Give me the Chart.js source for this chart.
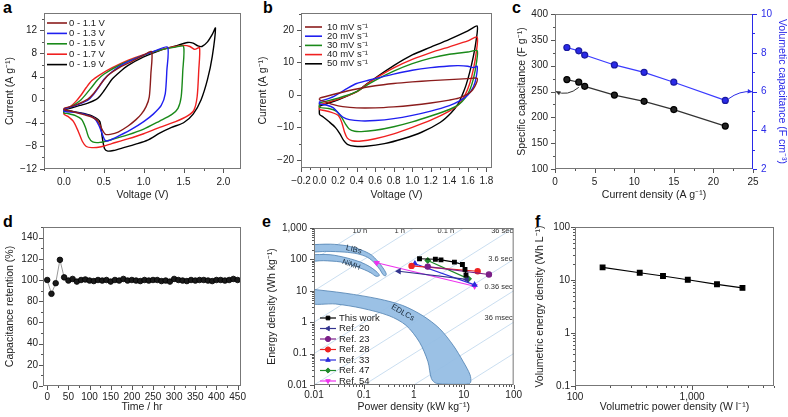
<!DOCTYPE html>
<html>
<head>
<meta charset="utf-8">
<script src="https://cdn.jsdelivr.net/npm/chart.js@4.4.1/dist/chart.umd.min.js"></script>
<style>
  html, body { margin: 0; padding: 0; background: #fff; }
  body { width: 788px; height: 417px; position: relative; overflow: hidden; font-family: "Liberation Sans", Arial, sans-serif; }
  canvas { position: absolute; }
  .tag { position: absolute; font-weight: bold; font-size: 16px; line-height: 16px; color: #000; }
</style>
</head>
<body>
<div class="tag" style="left:3px;top:0">a</div>
<div class="tag" style="left:263px;top:0">b</div>
<div class="tag" style="left:512px;top:0">c</div>
<div class="tag" style="left:3px;top:214px">d</div>
<div class="tag" style="left:262px;top:214px">e</div>
<div class="tag" style="left:535px;top:214px">f</div>
<script>
// ---- panel a: CV loops for different voltage windows (V, A/g)
const A_V_11 = [0, 0.15, 0.3, 0.38, 0.45, 0.55, 0.7, 0.85, 1.0, 1.1, 1.09, 1.07, 1.03, 0.97, 0.9, 0.8, 0.68, 0.58, 0.52, 0.48, 0.43, 0.35, 0.25, 0.12, 0];
const A_I_11 = [-1.5, -0.9, 0.1, 1.2, 2.5, 4.2, 5.6, 6.6, 7.7, 8.3, 4.5, 0.5, -1.2, -2.5, -3.5, -4.6, -5.6, -6.0, -6.0, -5.2, -3.8, -3.0, -2.6, -2.1, -1.7];
const A_V_13 = [0, 0.15, 0.3, 0.37, 0.44, 0.5, 0.6, 0.75, 1.0, 1.15, 1.3, 1.29, 1.27, 1.22, 1.12, 1.0, 0.85, 0.7, 0.58, 0.52, 0.49, 0.44, 0.38, 0.28, 0.15, 0];
const A_I_13 = [-1.6, -1.0, -0.1, 0.9, 2.2, 3.5, 4.8, 6.2, 7.7, 8.5, 9.1, 5.0, 1.0, -1.0, -2.5, -3.8, -5.1, -6.2, -7.0, -7.1, -6.3, -4.5, -3.2, -2.6, -2.2, -2.0];
const A_V_15 = [0, 0.1, 0.2, 0.28, 0.35, 0.42, 0.5, 0.7, 1.0, 1.2, 1.4, 1.5, 1.49, 1.47, 1.43, 1.35, 1.2, 1.0, 0.8, 0.6, 0.45, 0.36, 0.31, 0.27, 0.22, 0.15, 0.05, 0];
const A_I_15 = [-1.7, -1.1, -0.2, 1.0, 2.2, 3.4, 4.4, 6.0, 7.7, 8.6, 9.1, 9.2, 5.0, 0.5, -1.5, -2.6, -3.7, -5.1, -6.1, -6.9, -7.4, -7.3, -6.5, -4.8, -3.4, -2.8, -2.4, -2.3];
const A_V_17 = [0, 0.08, 0.15, 0.22, 0.28, 0.35, 0.45, 0.6, 0.8, 1.0, 1.2, 1.4, 1.5, 1.58, 1.64, 1.7, 1.69, 1.67, 1.63, 1.55, 1.4, 1.2, 1.0, 0.8, 0.6, 0.45, 0.35, 0.28, 0.23, 0.18, 0.12, 0.05, 0];
const A_I_17 = [-1.7, -1.2, -0.3, 0.9, 2.1, 3.3, 4.3, 5.5, 6.8, 7.8, 8.6, 9.2, 9.4, 9.2, 8.7, 9.0, 5.0, 0.5, -1.8, -2.8, -3.8, -4.8, -5.9, -6.8, -7.6, -8.2, -8.3, -8.1, -7.2, -5.5, -3.8, -2.9, -2.5];
const A_V_19 = [0, 0.1, 0.2, 0.3, 0.4, 0.45, 0.5, 0.55, 0.6, 0.7, 0.8, 1.0, 1.2, 1.4, 1.55, 1.62, 1.68, 1.73, 1.8, 1.86, 1.9, 1.86, 1.8, 1.72, 1.62, 1.5, 1.35, 1.2, 1.05, 0.9, 0.75, 0.62, 0.55, 0.51, 0.48, 0.45, 0.38, 0.25, 0.1, 0];
const A_I_19 = [-1.8, -1.4, -1.0, -0.6, 0.0, 0.6, 1.5, 2.5, 3.5, 4.8, 5.9, 7.4, 8.5, 9.3, 9.9, 9.8, 9.3, 9.2, 10.0, 11.3, 12.4, 7.5, 3.5, 0.0, -2.5, -4.0, -4.8, -5.8, -7.0, -7.7, -8.3, -8.8, -8.9, -8.5, -6.5, -3.8, -3.0, -2.4, -2.0, -1.8];

// ---- panel b: CV loops at different scan rates
const B_V_10 = [0, 0.2, 0.4, 0.6, 0.8, 1.0, 1.2, 1.4, 1.6, 1.7, 1.69, 1.65, 1.6, 1.5, 1.4, 1.2, 1.0, 0.8, 0.6, 0.4, 0.25, 0.15, 0.07, 0];
const B_I_10 = [-1.0, 0.5, 1.8, 2.8, 3.5, 4.0, 4.4, 4.7, 5.0, 5.1, 3.5, 1.5, 0.3, -1.0, -1.6, -2.5, -3.2, -3.7, -4.0, -4.0, -3.6, -3.0, -2.2, -1.5];
const B_V_20 = [0, 0.15, 0.3, 0.4, 0.5, 0.6, 0.8, 1.0, 1.2, 1.4, 1.5, 1.6, 1.66, 1.7, 1.69, 1.66, 1.6, 1.5, 1.4, 1.2, 1.0, 0.8, 0.6, 0.45, 0.32, 0.25, 0.2, 0.15, 0.08, 0];
const B_I_20 = [-2.0, -0.5, 2.0, 3.5, 4.3, 5.0, 6.4, 7.6, 8.4, 8.9, 9.0, 8.8, 8.4, 8.8, 5.5, 2.5, 0, -2.0, -3.3, -5.0, -6.3, -7.3, -7.9, -8.0, -7.6, -6.8, -5.5, -4.0, -3.2, -2.8];
const B_V_30 = [0, 0.2, 0.4, 0.5, 0.6, 0.8, 1.0, 1.2, 1.4, 1.6, 1.7, 1.69, 1.66, 1.62, 1.57, 1.5, 1.4, 1.2, 1.0, 0.8, 0.6, 0.45, 0.38, 0.32, 0.28, 0.24, 0.18, 0.1, 0];
const B_I_30 = [-2.5, -1.0, 1.0, 2.8, 4.5, 7.3, 9.6, 11.3, 12.5, 13.2, 13.6, 9.5, 5.0, 1.5, -1.0, -3.0, -4.5, -6.5, -8.3, -9.8, -10.9, -11.3, -11.2, -10.5, -9.0, -7.0, -5.0, -4.2, -3.8];
const B_V_40 = [0, 0.2, 0.4, 0.5, 0.6, 0.8, 1.0, 1.2, 1.4, 1.6, 1.7, 1.69, 1.66, 1.62, 1.57, 1.5, 1.4, 1.2, 1.0, 0.8, 0.6, 0.45, 0.35, 0.3, 0.27, 0.24, 0.2, 0.12, 0.05, 0];
const B_I_40 = [-3.0, -1.3, 0.9, 3.0, 5.0, 8.3, 10.9, 13.0, 14.8, 16.6, 17.8, 13.0, 8.0, 3.5, 0, -3.0, -5.0, -7.8, -10.0, -12.0, -13.5, -14.2, -14.1, -13.3, -11.5, -8.5, -6.3, -5.3, -4.8, -4.5];
const B_V_50 = [0, 0.2, 0.4, 0.5, 0.6, 0.8, 1.0, 1.2, 1.4, 1.6, 1.7, 1.69, 1.66, 1.62, 1.58, 1.54, 1.5, 1.42, 1.3, 1.1, 0.9, 0.7, 0.5, 0.38, 0.3, 0.26, 0.22, 0.17, 0.1, 0.04, 0];
const B_I_50 = [-3.5, -1.5, 1.0, 3.2, 5.2, 9.0, 12.3, 14.7, 17.1, 19.7, 21.2, 17.0, 12.0, 7.0, 3.0, 0, -2.5, -5.5, -8.5, -11.5, -13.5, -15.0, -15.8, -15.8, -15.2, -14.0, -12.0, -10.0, -8.2, -6.8, -6.0];

// ---- panel c: capacitance vs current density
const C_J = [1.5, 3, 3.75, 7.5, 11.25, 15, 21.5];
const C_SPEC = [273, 268, 260, 243, 231, 215, 183];
const C_VOL = [8.27, 8.1, 7.88, 7.37, 6.99, 6.48, 5.54];

// ---- panel d: capacitance retention over time
const D_TIME = [0, 10, 20, 30, 40, 50, 60, 70, 80, 90, 100, 110, 120, 130, 140, 150, 160, 170, 180, 190, 200, 210, 220, 230, 240, 250, 260, 270, 280, 290, 300, 310, 320, 330, 340, 350, 360, 370, 380, 390, 400, 410, 420, 430, 440, 450];
const D_RET = [100, 87, 97, 119, 102.5, 99.5, 101, 98.5, 100, 100.5, 99.5, 99, 100, 99.5, 100, 98.5, 100, 99.5, 101, 99.5, 100, 99.5, 99, 100, 99.5, 100, 100, 99, 99.5, 98.5, 101, 100, 99.5, 99, 100, 99.5, 100, 100, 99.5, 99, 100, 100, 99.5, 100, 101, 100];

// ---- panel e: Ragone plot (kW/kg, Wh/kg)
const E_THIS_P = [1.3, 2.7, 3.5, 6.5, 9.4, 10.6, 11.1];
const E_THIS_E = [105, 101, 97, 82, 69, 48, 32];
const E_R20_P = [0.5, 11.5];   const E_R20_E = [42, 23];
const E_R23_P = [1.9, 32];     const E_R23_E = [59, 33];
const E_R28_P = [0.9, 19];     const E_R28_E = [62, 42];
const E_R33_P = [1.05, 16.5];  const E_R33_E = [73, 15.5];
const E_R47_P = [1.9, 12.5];   const E_R47_E = [92, 24];
const E_R54_P = [0.18, 16.5];  const E_R54_E = [78, 14];
const LIB_P = [0.008, 0.021, 0.046, 0.087, 0.139, 0.19, 0.24, 0.28, 0.27, 0.24, 0.21, 0.163, 0.119, 0.074, 0.04, 0.018, 0.008];
const LIB_E = [291, 306, 270, 202, 141, 87, 54, 35, 30, 33, 47, 77, 116, 151, 171, 180, 180];
const NIMH_P = [0.008, 0.021, 0.046, 0.087, 0.128, 0.175, 0.205, 0.175, 0.139, 0.102, 0.063, 0.034, 0.0155, 0.008];
const NIMH_E = [141, 141, 111, 81, 60, 42, 31, 29, 37, 47, 63, 83, 91, 91];
const EDLC_P = [0.008, 0.042, 0.2, 0.6, 1.52, 3.3, 6.2, 9.8, 13.4, 13.8, 12.5, 9.8, 2.84, 2.25, 1.92, 1.3, 0.7, 0.32, 0.092, 0.027, 0.008];
const EDLC_E = [11.5, 8.4, 5.5, 3.4, 1.6, 0.62, 0.18, 0.055, 0.021, 0.0124, 0.0108, 0.0105, 0.0113, 0.016, 0.055, 0.23, 0.79, 1.6, 2.77, 3.8, 4.1];
const ISO_HOURS = [10, 1, 0.1, 0.01, 0.001, 0.0001, 0.00001, 0.000001];
const ISO_LABELS = ['10 h', '1 h', '0.1 h', '36 sec', '3.6 sec', '0.36 sec', '36 msec'];

// ---- panel f: volumetric Ragone
const F_P = [172, 357, 564, 918, 1630, 2690];
const F_E = [17.3, 13.7, 11.9, 10.1, 8.3, 7.1];

// ---- layout: canvas box [left, top, w, h] and plot area [L, T, R, B] in page px
const LAYOUT = {
  a: {box: [0, 0, 262, 205], area: [44, 10, 241, 169]},
  b: {box: [253, 0, 271, 205], area: [301, 10, 492, 168]},
  c: {box: [512, 0, 276, 205], area: [555, 10, 753, 169]},
  d: {box: [0, 215, 262, 202], area: [43, 227, 241, 386]},
  e: {box: [262, 215, 264, 202], area: [314, 227, 514, 385]},
  f: {box: [530, 215, 258, 202], area: [575, 227, 774, 386]},
};

const FONT = '"Liberation Sans", Arial, sans-serif';
Chart.defaults.font.family = FONT;
Chart.defaults.font.size = 10;
Chart.defaults.color = '#222';

const MINUS = v => (v < 0 ? '\u2212' : '') + Math.abs(v);
const isMajor = (v, m) => Math.abs(v / m - Math.round(v / m)) < 1e-6;
const isDecade = v => Math.abs(Math.log10(v) - Math.round(Math.log10(v))) < 1e-9;
const thousands = v => v.toLocaleString('en-US', {maximumFractionDigits: 3});

function lin(pos, min, max, minor, major, fmt, title, pad, color) {
  color = color || '#222';
  return {
    type: 'linear', position: pos, min, max,
    grid: {display: false, drawTicks: false},
    border: {display: false, color: color === '#222' ? '#555' : color},
    ticks: {stepSize: minor, autoSkip: false, includeBounds: false, maxRotation: 0, padding: pad, color,
      callback: v => isMajor(v, major) ? fmt(v) : ''},
    title: {display: true, text: title, color, font: {size: 10.5}, padding: {top: 4, bottom: 4}},
  };
}
function logax(pos, min, max, fmt, title, pad) {
  return {
    type: 'logarithmic', position: pos, min, max,
    grid: {display: false, drawTicks: false},
    border: {display: false, color: '#555'},
    afterBuildTicks: s => {
      const t = [];
      for (let e = Math.round(Math.log10(min)); Math.pow(10, e) <= max; e++) {
        for (let m = 1; m < 10; m++) {
          const v = m * Math.pow(10, e);
          if (v >= min * 0.999 && v <= max * 1.001) t.push({value: v});
        }
      }
      s.ticks = t;
    },
    ticks: {autoSkip: false, maxRotation: 0, padding: pad, callback: v => isDecade(v) ? fmt(v) : ''},
    title: {display: true, text: title, font: {size: 10.5}, padding: {top: 4, bottom: 4}},
  };
}

function pts(xs, ys) { return xs.map((x, i) => ({x, y: ys[i]})); }
function loop(xs, ys) { const p = pts(xs, ys); p.push({x: xs[0], y: ys[0]}); return p; }
function cv(label, xs, ys, color) {
  return {label, data: loop(xs, ys), showLine: true, borderColor: color, backgroundColor: color,
    borderWidth: 1.4, pointRadius: 0, tension: 0.25};
}

// frame, tick marks, legend, annotations
const deco = {
  id: 'deco',
  afterDatasetsDraw(chart) {
    const o = chart.canvas.$deco || {};
    const ctx = chart.ctx, a = chart.chartArea;
    ctx.save();
    (o.arrows || []).forEach(ar => {
      const xs = chart.scales.x, ys = chart.scales[ar.axis];
      const P = ar.pts.map(p => [xs.getPixelForValue(p[0]), ys.getPixelForValue(p[1])]);
      ctx.strokeStyle = ar.color; ctx.fillStyle = ar.color; ctx.lineWidth = 1;
      ctx.beginPath(); ctx.moveTo(P[0][0], P[0][1]);
      ctx.quadraticCurveTo(P[1][0], P[1][1], P[2][0], P[2][1]); ctx.stroke();
      const ang = Math.atan2(P[2][1] - P[1][1], P[2][0] - P[1][0]);
      ctx.beginPath(); ctx.moveTo(P[2][0], P[2][1]);
      ctx.lineTo(P[2][0] - 5 * Math.cos(ang - 0.45), P[2][1] - 5 * Math.sin(ang - 0.45));
      ctx.lineTo(P[2][0] - 5 * Math.cos(ang + 0.45), P[2][1] - 5 * Math.sin(ang + 0.45));
      ctx.closePath(); ctx.fill();
    });
    (o.texts || []).forEach(t => {
      const x = chart.scales.x.getPixelForValue(t.x), y = chart.scales.y.getPixelForValue(t.y);
      ctx.save();
      ctx.translate(x, y); ctx.rotate((t.rot || 0) * Math.PI / 180);
      ctx.font = t.font; ctx.fillStyle = t.color || '#333';
      ctx.textAlign = t.align || 'center'; ctx.textBaseline = 'middle';
      ctx.fillText(t.s, 0, 0);
      ctx.restore();
    });
    if (o.legend) {
      const L = o.legend;
      ctx.font = L.font; ctx.textBaseline = 'middle'; ctx.textAlign = 'left';
      L.items.forEach((di, k) => {
        const ds = chart.data.datasets[di];
        const x = a.left + L.x, y = a.top + L.y + k * L.rowH;
        ctx.strokeStyle = ds.borderColor; ctx.lineWidth = L.lw;
        ctx.beginPath(); ctx.moveTo(x, y); ctx.lineTo(x + L.len, y); ctx.stroke();
        if (L.marker) {
          ctx.fillStyle = ds.borderColor; ctx.lineWidth = 1;
          Chart.helpers.drawPoint(ctx, {pointStyle: ds.pointStyle, rotation: ds.pointRotation || 0,
            radius: ds.pointRadius, borderWidth: 1}, x + L.len / 2, y);
        }
        ctx.fillStyle = '#222';
        ctx.fillText(ds.label, x + L.len + L.gap, y);
      });
    }
    // box
    ctx.strokeStyle = '#777'; ctx.lineWidth = 1;
    ctx.strokeRect(a.left + 0.5, a.top + 0.5, a.right - a.left - 1, a.bottom - a.top - 1);
    if (chart.scales.y2) {
      ctx.strokeStyle = chart.scales.y2.options.border.color;
      ctx.beginPath(); ctx.moveTo(a.right - 0.5, a.top); ctx.lineTo(a.right - 0.5, a.bottom); ctx.stroke();
    }
    // outward tick marks, major long, minor short
    Object.values(chart.scales).forEach(s => {
      ctx.strokeStyle = s.options.border.color;
      s.ticks.forEach(t => {
        const len = t.label === '' ? 2 : 4;
        const p = Math.round(s.getPixelForValue(t.value)) + 0.5;
        ctx.beginPath();
        if (s.position === 'bottom') { ctx.moveTo(p, a.bottom); ctx.lineTo(p, a.bottom + len); }
        else if (s.position === 'left') { ctx.moveTo(a.left, p); ctx.lineTo(a.left - len, p); }
        else if (s.position === 'right') { ctx.moveTo(a.right, p); ctx.lineTo(a.right + len, p); }
        ctx.stroke();
      });
    });
    ctx.restore();
  }
};
Chart.register(deco);

function panel(key, datasets, scales, decoOpts) {
  const g = LAYOUT[key];
  const [bl, bt, bw, bh] = g.box, [L, T, R, B] = g.area;
  const el = document.createElement('canvas');
  el.width = bw; el.height = bh;
  el.style.left = bl + 'px'; el.style.top = bt + 'px';
  el.$deco = decoOpts;
  document.body.appendChild(el);
  scales.x.afterFit = s => { s.height = bt + bh - B; };
  scales.y.afterFit = s => { s.width = L - bl; };
  if (scales.y2) scales.y2.afterFit = s => { s.width = bl + bw - R; };
  return new Chart(el, {
    type: 'scatter',
    data: {datasets},
    options: {
      responsive: false, animation: false, events: [],
      layout: {padding: {left: 0, top: T - bt, right: scales.y2 ? 0 : bl + bw - R, bottom: 0}},
      scales,
      plugins: {legend: {display: false}, tooltip: {enabled: false}},
    },
  });
}

const LEG_FONT = '9.5px ' + FONT;

// a
panel('a', [
  cv('0 - 1.1 V', A_V_11, A_I_11, '#8b1c1c'),
  cv('0 - 1.3 V', A_V_13, A_I_13, '#1f1ff0'),
  cv('0 - 1.5 V', A_V_15, A_I_15, '#1a8a1a'),
  cv('0 - 1.7 V', A_V_17, A_I_17, '#f02020'),
  cv('0 - 1.9 V', A_V_19, A_I_19, '#000000'),
], {
  x: lin('bottom', -0.25, 2.22, 0.25, 0.5, v => v.toFixed(1), 'Voltage (V)', 7),
  y: lin('left', -12, 15, 2, 4, MINUS, 'Current (A g\u207B\u00B9)', 7),
}, {legend: {x: 3, y: 10, rowH: 10.4, len: 20, gap: 2, lw: 1.6, font: LEG_FONT, items: [0, 1, 2, 3, 4]}});

// b
panel('b', [
  cv('10 mV s\u207B\u00B9', B_V_10, B_I_10, '#8b1c1c'),
  cv('20 mV s\u207B\u00B9', B_V_20, B_I_20, '#1f1ff0'),
  cv('30 mV s\u207B\u00B9', B_V_30, B_I_30, '#1a8a1a'),
  cv('40 mV s\u207B\u00B9', B_V_40, B_I_40, '#f02020'),
  cv('50 mV s\u207B\u00B9', B_V_50, B_I_50, '#000000'),
], {
  x: lin('bottom', -0.2, 1.86, 0.1, 0.2, v => (v < 0 ? '\u2212' : '') + Math.abs(v).toFixed(1), 'Voltage (V)', 7),
  y: lin('left', -22.5, 25.2, 5, 10, MINUS, 'Current (A g\u207B\u00B9)', 7),
}, {legend: {x: 4, y: 14, rowH: 9.2, len: 17, gap: 5, lw: 1.6, font: LEG_FONT, items: [0, 1, 2, 3, 4]}});

// c
panel('c', [
  {label: 'Specific capacitance', data: pts(C_J, C_SPEC), yAxisID: 'y', showLine: true,
    borderColor: '#333', borderWidth: 1.2, pointRadius: 3, pointBackgroundColor: '#222', pointBorderColor: '#000'},
  {label: 'Volumetic capacitance', data: pts(C_J, C_VOL), yAxisID: 'y2', showLine: true,
    borderColor: '#3a3aff', borderWidth: 1.2, pointRadius: 3, pointBackgroundColor: '#2a2ae8', pointBorderColor: '#1a1aa0'},
], {
  x: lin('bottom', 0, 25, 2.5, 5, v => String(v), 'Current density (A g\u207B\u00B9)', 7),
  y: lin('left', 100, 400, 25, 50, v => String(v), 'Specific capacitance (F g\u207B\u00B9)', 7),
  y2: Object.assign(lin('right', 2, 10, 1, 2, v => String(v), 'Volumetic capacitance (F cm\u207B\u00B3)', 8, '#2a2ae8'),
    {title: {display: true, text: 'Volumetic capacitance (F cm\u207B\u00B3)', color: '#2a2ae8', font: {size: 10.5}, padding: {top: 0, bottom: 0}}}),
}, {arrows: [
  {axis: 'y', color: '#333', pts: [[3.0, 258], [1.6, 240], [0.1, 250]]},
  {axis: 'y2', color: '#2a2ae8', pts: [[21.9, 5.62], [23.3, 6.05], [24.9, 5.99]]},
]});

// d
panel('d', [
  {label: 'Capacitance retention', data: pts(D_TIME, D_RET), showLine: true, borderColor: '#999', borderWidth: 1,
    pointRadius: 2.8, pointBackgroundColor: '#1a1a1a', pointBorderColor: '#000', pointBorderWidth: 0.8},
], {
  x: lin('bottom', -10, 458, 25, 50, v => String(v), 'Time / hr', 5),
  y: lin('left', 0, 150, 10, 20, v => String(v), 'Capacitance retention (%)', 5),
}, {});

// e
function refSet(label, xs, ys, color, style, rot) {
  return {label, data: pts(xs, ys), showLine: true, borderColor: color, backgroundColor: color, borderWidth: 1.2,
    pointRadius: 2.6, pointStyle: style, pointRotation: rot || 0, pointBackgroundColor: color, pointBorderColor: color};
}
function region(label, xs, ys) {
  return {label, data: loop(xs, ys), showLine: true, fill: 'shape', tension: 0.3, borderColor: '#4d7fb0',
    borderWidth: 0.8, backgroundColor: 'rgba(150,190,228,0.95)', pointRadius: 0};
}
const eSets = [
  refSet('This work', E_THIS_P, E_THIS_E, '#000000', 'rect'),
  refSet('Ref. 20', E_R20_P, E_R20_E, '#34348f', 'triangle', -90),
  refSet('Ref. 23', E_R23_P, E_R23_E, '#7b1f88', 'circle'),
  refSet('Ref. 28', E_R28_P, E_R28_E, '#ee2222', 'circle'),
  refSet('Ref. 33', E_R33_P, E_R33_E, '#2b2bdd', 'triangle'),
  refSet('Ref. 47', E_R47_P, E_R47_E, '#1f8a2a', 'rectRot'),
  refSet('Ref. 54', E_R54_P, E_R54_E, '#ee33ee', 'triangle', 180),
  region('LIBs', LIB_P, LIB_E),
  region('NiMH', NIMH_P, NIMH_E),
  region('EDLCs', EDLC_P, EDLC_E),
];
ISO_HOURS.forEach(t => {
  eSets.push({label: t + ' h', data: [{x: 0.001, y: 1000 * t * 0.001}, {x: 1000, y: 1000 * t * 1000}],
    showLine: true, borderColor: '#bcd5ec', borderWidth: 0.8, pointRadius: 0});
});
const ISO_FONT = '7.5px ' + FONT;
panel('e', eSets, {
  x: logax('bottom', 0.01, 100, thousands, 'Power density (kW kg\u207B\u00B9)', 4),
  y: logax('left', 0.01, 1000, thousands, 'Energy density (Wh kg\u207B\u00B9)', 7),
}, {
  legend: {x: 6, y: 90, rowH: 10.5, len: 16, gap: 3, lw: 1.2, marker: true, font: '9.5px ' + FONT, items: [0, 1, 2, 3, 4, 5, 6]},
  texts: [
    {x: 0.083, y: 790, s: ISO_LABELS[0], font: ISO_FONT},
    {x: 0.52, y: 790, s: ISO_LABELS[1], font: ISO_FONT},
    {x: 4.4, y: 790, s: ISO_LABELS[2], font: ISO_FONT},
    {x: 59, y: 790, s: ISO_LABELS[3], font: ISO_FONT},
    {x: 54, y: 105, s: ISO_LABELS[4], font: ISO_FONT},
    {x: 50, y: 13.5, s: ISO_LABELS[5], font: ISO_FONT},
    {x: 50, y: 1.35, s: ISO_LABELS[6], font: ISO_FONT},
    {x: 0.063, y: 205, s: 'LIBs', font: '8px ' + FONT, rot: 14, color: '#234'},
    {x: 0.056, y: 68, s: 'NiMH', font: '7.5px ' + FONT, rot: 20, color: '#234'},
    {x: 0.6, y: 2.0, s: 'EDLCs', font: '8px ' + FONT, rot: 30, color: '#234'},
  ],
});

// f
panel('f', [
  {label: 'Volumetric', data: pts(F_P, F_E), showLine: true, borderColor: '#000', borderWidth: 1.2,
    pointRadius: 3.3, pointStyle: 'rect', pointBackgroundColor: '#000', pointBorderColor: '#000'},
], {
  x: logax('bottom', 100, 5000, thousands, 'Volumetric power density (W l\u207B\u00B9)', 5),
  y: logax('left', 0.1, 100, thousands, 'Volumetric energy density (Wh L\u207B\u00B9)', 5),
}, {});
</script>
</body>
</html>
